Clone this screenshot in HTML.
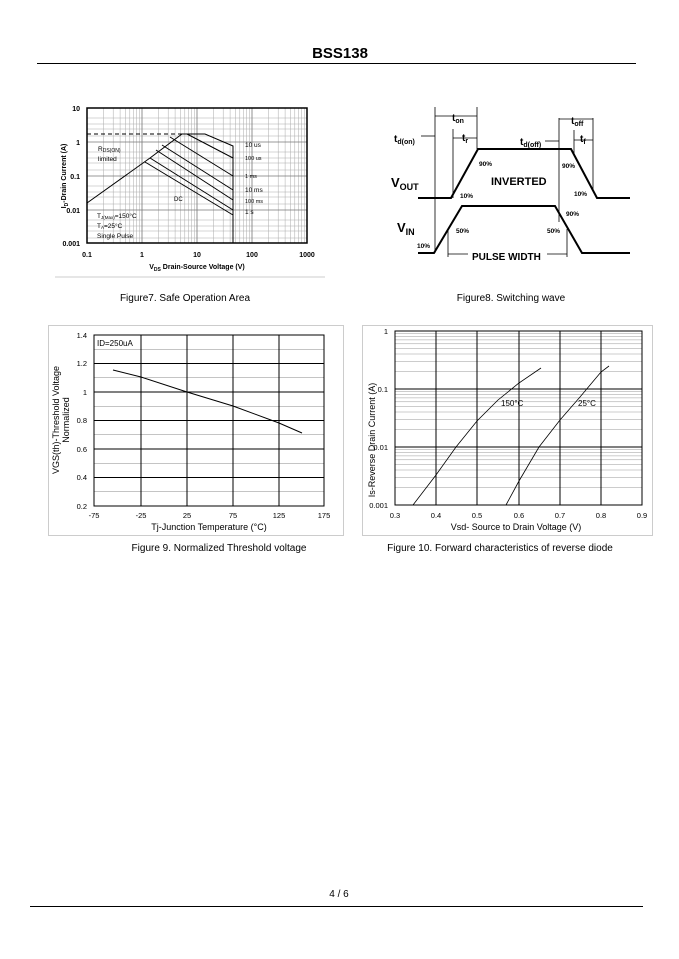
<!DOCTYPE html>
<html><head><meta charset="utf-8"><style>
html,body{margin:0;padding:0;background:#fff}
svg{display:block}
text{font-family:"Liberation Sans",sans-serif;fill:#000}
</style></head><body>
<svg width="679" height="959" viewBox="0 0 679 959" xmlns="http://www.w3.org/2000/svg">
<text x="340" y="58" text-anchor="middle" font-size="15" font-weight="bold">BSS138</text>
<line x1="37" y1="63.5" x2="636" y2="63.5" stroke="#000" stroke-width="1"/>

<!-- Fig 7 -->
<line x1="55" y1="277" x2="325" y2="277" stroke="#ccc"/>
<g stroke="#aaa" stroke-width="0.5">
<line x1="103.6" y1="108" x2="103.6" y2="243"/><line x1="113.2" y1="108" x2="113.2" y2="243"/><line x1="120.1" y1="108" x2="120.1" y2="243"/><line x1="125.4" y1="108" x2="125.4" y2="243"/><line x1="129.8" y1="108" x2="129.8" y2="243"/><line x1="133.5" y1="108" x2="133.5" y2="243"/><line x1="136.7" y1="108" x2="136.7" y2="243"/><line x1="139.5" y1="108" x2="139.5" y2="243"/>
<line x1="158.6" y1="108" x2="158.6" y2="243"/><line x1="168.2" y1="108" x2="168.2" y2="243"/><line x1="175.1" y1="108" x2="175.1" y2="243"/><line x1="180.4" y1="108" x2="180.4" y2="243"/><line x1="184.8" y1="108" x2="184.8" y2="243"/><line x1="188.5" y1="108" x2="188.5" y2="243"/><line x1="191.7" y1="108" x2="191.7" y2="243"/><line x1="194.5" y1="108" x2="194.5" y2="243"/>
<line x1="213.6" y1="108" x2="213.6" y2="243"/><line x1="223.2" y1="108" x2="223.2" y2="243"/><line x1="230.1" y1="108" x2="230.1" y2="243"/><line x1="235.4" y1="108" x2="235.4" y2="243"/><line x1="239.8" y1="108" x2="239.8" y2="243"/><line x1="243.5" y1="108" x2="243.5" y2="243"/><line x1="246.7" y1="108" x2="246.7" y2="243"/><line x1="249.5" y1="108" x2="249.5" y2="243"/>
<line x1="268.6" y1="108" x2="268.6" y2="243"/><line x1="278.2" y1="108" x2="278.2" y2="243"/><line x1="285.1" y1="108" x2="285.1" y2="243"/><line x1="290.4" y1="108" x2="290.4" y2="243"/><line x1="294.8" y1="108" x2="294.8" y2="243"/><line x1="298.5" y1="108" x2="298.5" y2="243"/><line x1="301.7" y1="108" x2="301.7" y2="243"/><line x1="304.5" y1="108" x2="304.5" y2="243"/>
<line x1="87" y1="118" x2="307" y2="118"/><line x1="87" y1="124" x2="307" y2="124"/><line x1="87" y1="129" x2="307" y2="129"/><line x1="87" y1="136" x2="307" y2="136"/>
<line x1="87" y1="152" x2="307" y2="152"/><line x1="87" y1="158" x2="307" y2="158"/><line x1="87" y1="163" x2="307" y2="163"/><line x1="87" y1="170" x2="307" y2="170"/>
<line x1="87" y1="186" x2="307" y2="186"/><line x1="87" y1="192" x2="307" y2="192"/><line x1="87" y1="197" x2="307" y2="197"/><line x1="87" y1="204" x2="307" y2="204"/>
<line x1="87" y1="220" x2="307" y2="220"/><line x1="87" y1="226" x2="307" y2="226"/><line x1="87" y1="231" x2="307" y2="231"/><line x1="87" y1="238" x2="307" y2="238"/>
</g>
<g stroke="#777" stroke-width="0.8">
<line x1="142" y1="108" x2="142" y2="243"/><line x1="197" y1="108" x2="197" y2="243"/><line x1="252" y1="108" x2="252" y2="243"/>
<line x1="87" y1="142" x2="307" y2="142"/><line x1="87" y1="176" x2="307" y2="176"/><line x1="87" y1="210" x2="307" y2="210"/>
</g>
<rect x="87" y="108" width="220" height="135" fill="none" stroke="#000" stroke-width="1.5"/>
<g font-size="7" font-weight="bold" text-anchor="end">
<text x="80" y="111">10</text><text x="80" y="145">1</text><text x="80" y="179">0.1</text><text x="80" y="213">0.01</text><text x="80" y="246">0.001</text></g>
<g font-size="7" font-weight="bold" text-anchor="middle">
<text x="87" y="257">0.1</text><text x="142" y="257">1</text><text x="197" y="257">10</text><text x="252" y="257">100</text><text x="307" y="257">1000</text>
<text x="197" y="269">V<tspan font-size="5" dy="2">DS</tspan><tspan dy="-2"> Drain-Source Voltage (V)</tspan></text></g>
<text transform="translate(66,176) rotate(-90)" font-size="7" font-weight="bold" text-anchor="middle">I<tspan font-size="5" dy="2">D</tspan><tspan dy="-2">-Drain Current (A)</tspan></text>
<g stroke="#000" fill="none" stroke-width="1">
<line x1="87" y1="134" x2="183" y2="134" stroke-dasharray="4,3"/>
<polyline points="87,203 150,158 182,134 205,134 233,146 233,243"/>
<polyline points="187,134 233,158"/>
<polyline points="170,137 233,176"/>
<polyline points="162,145 233,190"/>
<polyline points="156,150 233,200"/>
<polyline points="150,158 233,210"/>
<polyline points="145,162 233,215"/>
</g>
<g font-size="6.5">
<text x="98" y="151">R<tspan font-size="5" dy="1">DS(ON)</tspan></text>
<text x="98" y="161">limited</text>
<text x="245" y="147">10 us</text><text x="245" y="160" font-size="5.5">100 us</text>
<text x="245" y="178" font-size="5.5">1 ms</text><text x="245" y="192">10 ms</text><text x="245" y="203" font-size="5.5">100 ms</text><text x="245" y="214">1 s</text>
<text x="174" y="201" font-size="6">DC</text>
<text x="97" y="218">T<tspan font-size="4.5" dy="1">J(Max)</tspan><tspan dy="-1">=150°C</tspan></text>
<text x="97" y="228">T<tspan font-size="4.5" dy="1">A</tspan><tspan dy="-1">=25°C</tspan></text>
<text x="97" y="238">Single Pulse</text></g>
<text x="185" y="301" text-anchor="middle" font-size="10">Figure7. Safe Operation Area</text>

<!-- Fig 8 -->
<g stroke="#000" fill="none">
<polyline stroke-width="2" points="418,198 451,198 478,149 571,149 597,198 630,198"/>
<polyline stroke-width="2" points="418,253 434,253 462,206 555,206 582,253 630,253"/>
<g stroke-width="0.8">
<line x1="435" y1="107" x2="435" y2="253"/><line x1="453" y1="129" x2="453" y2="198"/>
<line x1="477" y1="107" x2="477" y2="149"/><line x1="559" y1="118" x2="559" y2="222"/>
<line x1="574" y1="130" x2="574" y2="155"/><line x1="593" y1="118" x2="593" y2="190"/>
<line x1="448" y1="229" x2="448" y2="257"/><line x1="567" y1="229" x2="567" y2="257"/>
<line x1="435" y1="116" x2="477" y2="116"/><line x1="453" y1="138" x2="477" y2="138"/>
<line x1="559" y1="119" x2="593" y2="119"/><line x1="574" y1="140" x2="593" y2="140"/>
<line x1="421" y1="136" x2="435" y2="136"/><line x1="545" y1="141" x2="559" y2="141"/>
<line x1="448" y1="254" x2="468" y2="254"/><line x1="547" y1="254" x2="567" y2="254"/>
</g></g>
<g font-size="10" font-weight="bold">
<text x="452" y="121">t<tspan font-size="7" dy="2">on</tspan></text>
<text x="462" y="141">t<tspan font-size="7" dy="2">r</tspan></text>
<text x="394" y="142">t<tspan font-size="7" dy="2">d(on)</tspan></text>
<text x="520" y="145">t<tspan font-size="7" dy="2">d(off)</tspan></text>
<text x="571" y="124">t<tspan font-size="7" dy="2">off</tspan></text>
<text x="580" y="142">t<tspan font-size="7" dy="2">f</tspan></text>
<text x="391" y="187" font-size="13">V<tspan font-size="9" dy="3">OUT</tspan></text>
<text x="397" y="232" font-size="13">V<tspan font-size="9" dy="3">IN</tspan></text>
<text x="491" y="185" font-size="11">INVERTED</text>
<text x="472" y="260" font-size="10">PULSE WIDTH</text>
<g font-size="6.5"><text x="479" y="166">90%</text><text x="460" y="198">10%</text><text x="562" y="168">90%</text><text x="574" y="196">10%</text>
<text x="566" y="216">90%</text><text x="456" y="233">50%</text><text x="547" y="233">50%</text><text x="417" y="248">10%</text></g>
</g>
<text x="511" y="301" text-anchor="middle" font-size="10">Figure8. Switching wave</text>

<!-- Fig 9 -->
<rect x="48.5" y="325.5" width="295" height="210" fill="none" stroke="#ccc"/>
<g stroke="#000" stroke-width="1">
<line x1="94" y1="349.25" x2="324" y2="349.25" stroke="#888" stroke-width="0.5"/>
<line x1="94" y1="377.75" x2="324" y2="377.75" stroke="#888" stroke-width="0.5"/>
<line x1="94" y1="406.25" x2="324" y2="406.25" stroke="#888" stroke-width="0.5"/>
<line x1="94" y1="434.75" x2="324" y2="434.75" stroke="#888" stroke-width="0.5"/>
<line x1="94" y1="463.25" x2="324" y2="463.25" stroke="#888" stroke-width="0.5"/>
<line x1="94" y1="491.75" x2="324" y2="491.75" stroke="#888" stroke-width="0.5"/>
<line x1="94" y1="363.5" x2="324" y2="363.5"/><line x1="94" y1="392" x2="324" y2="392"/>
<line x1="94" y1="420.5" x2="324" y2="420.5"/><line x1="94" y1="449" x2="324" y2="449"/>
<line x1="94" y1="477.5" x2="324" y2="477.5"/>
<line x1="141" y1="335" x2="141" y2="506"/><line x1="187" y1="335" x2="187" y2="506"/>
<line x1="233" y1="335" x2="233" y2="506"/><line x1="279" y1="335" x2="279" y2="506"/>
<rect x="94" y="335" width="230" height="171" fill="none"/>
<polyline fill="none" points="113,370 141,377 187,392 233,406 279,423 302,433"/>
</g>
<text x="97" y="346" font-size="8">ID=250uA</text>
<g font-size="7.5" text-anchor="end"><text x="87" y="338">1.4</text><text x="87" y="366">1.2</text><text x="87" y="395">1</text><text x="87" y="423">0.8</text><text x="87" y="452">0.6</text><text x="87" y="480">0.4</text><text x="87" y="509">0.2</text></g>
<g font-size="7.5" text-anchor="middle"><text x="94" y="518">-75</text><text x="141" y="518">-25</text><text x="187" y="518">25</text><text x="233" y="518">75</text><text x="279" y="518">125</text><text x="324" y="518">175</text>
<text x="209" y="530" font-size="9">Tj-Junction Temperature (°C)</text></g>
<text transform="translate(59,420) rotate(-90)" font-size="9" text-anchor="middle">VGS(th)-Threshold Voltage</text>
<text transform="translate(69,420) rotate(-90)" font-size="9" text-anchor="middle">Normalized</text>
<text x="219" y="551" text-anchor="middle" font-size="10">Figure 9.  Normalized Threshold voltage</text>

<!-- Fig 10 -->
<rect x="362.5" y="325.5" width="290" height="210" fill="none" stroke="#ccc"/>
<g stroke="#999" stroke-width="0.5">
<line x1="395" y1="487.5" x2="642" y2="487.5"/><line x1="395" y1="477.3" x2="642" y2="477.3"/><line x1="395" y1="470" x2="642" y2="470"/><line x1="395" y1="464.4" x2="642" y2="464.4"/><line x1="395" y1="459.8" x2="642" y2="459.8"/><line x1="395" y1="455.9" x2="642" y2="455.9"/><line x1="395" y1="452.6" x2="642" y2="452.6"/><line x1="395" y1="449.7" x2="642" y2="449.7"/>
<line x1="395" y1="429.5" x2="642" y2="429.5"/><line x1="395" y1="419.3" x2="642" y2="419.3"/><line x1="395" y1="412" x2="642" y2="412"/><line x1="395" y1="406.4" x2="642" y2="406.4"/><line x1="395" y1="401.8" x2="642" y2="401.8"/><line x1="395" y1="397.9" x2="642" y2="397.9"/><line x1="395" y1="394.6" x2="642" y2="394.6"/><line x1="395" y1="391.7" x2="642" y2="391.7"/>
<line x1="395" y1="371.5" x2="642" y2="371.5"/><line x1="395" y1="361.3" x2="642" y2="361.3"/><line x1="395" y1="354" x2="642" y2="354"/><line x1="395" y1="348.4" x2="642" y2="348.4"/><line x1="395" y1="343.8" x2="642" y2="343.8"/><line x1="395" y1="339.9" x2="642" y2="339.9"/><line x1="395" y1="336.6" x2="642" y2="336.6"/><line x1="395" y1="333.7" x2="642" y2="333.7"/>
</g>
<g stroke="#000" stroke-width="1">
<line x1="395" y1="389" x2="642" y2="389"/><line x1="395" y1="447" x2="642" y2="447"/>
<line x1="436" y1="331" x2="436" y2="505"/><line x1="477" y1="331" x2="477" y2="505"/><line x1="519" y1="331" x2="519" y2="505"/><line x1="560" y1="331" x2="560" y2="505"/><line x1="601" y1="331" x2="601" y2="505"/>
<rect x="395" y="331" width="247" height="174" fill="none"/>
<polyline fill="none" stroke-width="0.8" points="413,505 436,475 456,447 477,421 498,400 519,383 541,368"/>
<polyline fill="none" stroke-width="0.8" points="506,505 519,481 539,447 560,420 580,397 601,372 609,366"/>
</g>
<text x="501" y="406" font-size="8">150°C</text><text x="578" y="406" font-size="8">25°C</text>
<g font-size="7.5" text-anchor="end"><text x="388" y="334">1</text><text x="388" y="392">0.1</text><text x="388" y="450">0.01</text><text x="388" y="508">0.001</text></g>
<g font-size="7.5" text-anchor="middle"><text x="395" y="518">0.3</text><text x="436" y="518">0.4</text><text x="477" y="518">0.5</text><text x="519" y="518">0.6</text><text x="560" y="518">0.7</text><text x="601" y="518">0.8</text><text x="642" y="518">0.9</text>
<text x="516" y="530" font-size="9">Vsd- Source to Drain Voltage (V)</text></g>
<text transform="translate(375,440) rotate(-90)" font-size="9" text-anchor="middle">Is-Reverse Drain Current (A)</text>
<text x="500" y="551" text-anchor="middle" font-size="10">Figure 10.  Forward characteristics of reverse diode</text>

<text x="339" y="897" text-anchor="middle" font-size="10">4 / 6</text>
<line x1="30" y1="906.5" x2="643" y2="906.5" stroke="#000"/>
</svg>
</body></html>
